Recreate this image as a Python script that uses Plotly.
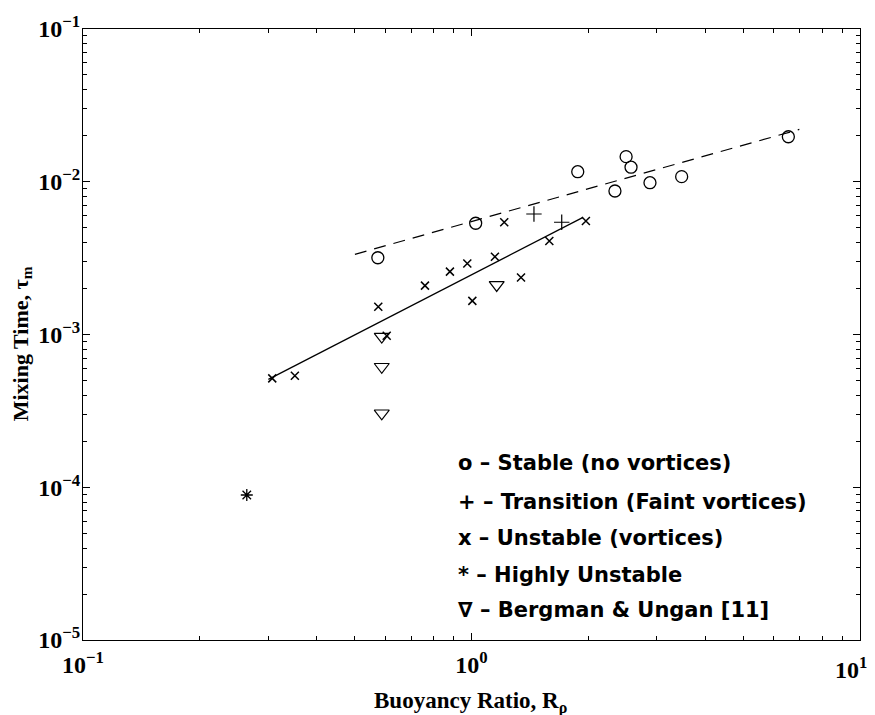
import plotly.graph_objects as go

# ---- data ----
stable_x = [0.574, 1.025, 1.877, 2.34, 2.50, 2.574, 2.88, 3.475, 6.54]
stable_y = [3.18e-3, 5.35e-3, 1.164e-2, 8.7e-3, 1.46e-2, 1.245e-2, 9.86e-3, 1.08e-2, 1.97e-2]

trans_x = [1.448, 1.707]
trans_y = [6.15e-3, 5.43e-3]

unstable_x = [0.307, 0.351, 0.5755, 0.605, 0.759, 0.880, 0.9754, 1.005, 1.149, 1.214, 1.341, 1.586, 1.97]
unstable_y = [5.16e-4, 5.37e-4, 1.52e-3, 9.82e-4, 2.09e-3, 2.58e-3, 2.92e-3, 1.66e-3, 3.23e-3, 5.43e-3, 2.36e-3, 4.09e-3, 5.53e-3]

high_x = [0.264]
high_y = [8.9e-5]

bergman_x = [0.5875, 0.5875, 0.5875, 1.161]
bergman_y = [9.69e-4, 6.15e-4, 3.05e-4, 2.11e-3]

fit_stable_x = [0.501, 6.98]
fit_stable_y = [3.35e-3, 2.20e-2]

fit_unstable_x = [0.30, 1.937]
fit_unstable_y = [5.09e-4, 5.85e-3]

x_major = [0.1, 1, 10]
x_major_text = ["10<sup>−1</sup>", "10<sup>0</sup>", ""]   # last one drawn separately (edge)
x_last_label = "10<sup>1</sup>"
y_major = [1e-5, 1e-4, 1e-3, 1e-2, 1e-1]
y_major_text = ["10<sup>−5</sup>", "10<sup>−4</sup>", "10<sup>−3</sup>", "10<sup>−2</sup>", "10<sup>−1</sup>"]

x_title = "Buoyancy Ratio, R<sub>ρ</sub>"
y_title = "Mixing Time, τ<sub>m</sub>"

legend_lines = [
    "o – Stable (no vortices)",
    "+ – Transition (Faint vortices)",
    "x – Unstable (vortices)",
    "* – Highly Unstable",
    "∇ – Bergman &amp; Ungan [11]",
]

# minor tick positions (2..9 per decade)
x_minor = [m * d for d in [0.1, 1] for m in range(2, 10)]
y_minor = [m * d for d in [1e-5, 1e-4, 1e-3, 1e-2] for m in range(2, 10)]

BLACK = "black"
fig = go.Figure()

fig.add_trace(go.Scatter(x=fit_stable_x, y=fit_stable_y, mode="lines",
                         line=dict(color=BLACK, width=1.2, dash="12px,8px"), hoverinfo="skip"))
fig.add_trace(go.Scatter(x=fit_unstable_x, y=fit_unstable_y, mode="lines",
                         line=dict(color=BLACK, width=1.3), hoverinfo="skip"))

fig.add_trace(go.Scatter(x=stable_x, y=stable_y, mode="markers",
                         marker=dict(symbol="circle-open", size=12, color=BLACK, line=dict(width=1.3))))
fig.add_trace(go.Scatter(x=trans_x, y=trans_y, mode="markers",
                         marker=dict(symbol="cross-thin-open", size=11, color=BLACK, line=dict(width=1.2, color=BLACK))))
fig.add_trace(go.Scatter(x=unstable_x, y=unstable_y, mode="markers",
                         marker=dict(symbol="x-thin-open", size=8, color=BLACK, line=dict(width=1.5, color=BLACK))))
fig.add_trace(go.Scatter(x=high_x, y=high_y, mode="markers",
                         marker=dict(symbol="asterisk-open", size=10, color=BLACK, line=dict(width=1.3, color=BLACK))))
fig.add_trace(go.Scatter(x=bergman_x, y=bergman_y, mode="markers",
                         marker=dict(symbol="triangle-down-open", size=13, color=BLACK, line=dict(width=1.2))))

serif = "Liberation Serif, Times New Roman, serif"
sans = "DejaVu Sans, Liberation Sans, Arial, sans-serif"
tick_font = dict(family=serif, size=24, color=BLACK, weight="bold")

axis_common = dict(
    type="log", showgrid=False, zeroline=False, automargin=False,
    showline=True, linecolor=BLACK, linewidth=1.2, mirror="ticks",
    ticks="inside", ticklen=7, tickwidth=1, tickcolor=BLACK,
    tickfont=tick_font,
)

# the page body adds an 8 px offset, so the figure is 8 px smaller
fig.update_layout(
    width=867, height=707,
    margin=dict(l=75, r=15, t=21, b=75),
    plot_bgcolor="white", paper_bgcolor="white",
    showlegend=False,
    xaxis=dict(axis_common, range=[-1, 1], tickvals=x_major, ticktext=x_major_text,
               ticklabelstandoff=3, ticklabeloverflow="allow",
               minor=dict(tickvals=x_minor, ticks="inside", ticklen=4, tickcolor=BLACK, tickwidth=1)),
    yaxis=dict(axis_common, range=[-5, -1], tickvals=y_major, ticktext=y_major_text,
               ticklabelstandoff=-3, ticklabeloverflow="allow",
               minor=dict(tickvals=y_minor, ticks="inside", ticklen=4, tickcolor=BLACK, tickwidth=1)),
)

# last x tick label, kept inside the page
fig.add_annotation(text=x_last_label, xref="paper", yref="paper", x=1.012, y=-0.046,
                   xanchor="right", yanchor="middle", showarrow=False, font=tick_font)

# axis titles
fig.add_annotation(text=x_title, xref="paper", yref="paper", x=0.4987, y=-0.103,
                   xanchor="center", yanchor="middle", showarrow=False,
                   font=dict(family=serif, size=23, color=BLACK, weight="bold"))
fig.add_annotation(text=y_title, xref="paper", yref="paper", x=-0.0785, y=0.484,
                   xanchor="center", yanchor="middle", showarrow=False, textangle=-90,
                   font=dict(family=serif, size=22, color=BLACK, weight="bold"))

# in-plot legend text
legend_y = [0.2897, 0.2259, 0.1669, 0.1064, 0.0491]
for txt, yy in zip(legend_lines, legend_y):
    fig.add_annotation(text=txt, xref="paper", yref="paper", x=0.480, y=yy,
                       xanchor="left", yanchor="middle", showarrow=False,
                       font=dict(family=sans, size=21, color=BLACK, weight="bold"))

fig.write_html("out.html")
